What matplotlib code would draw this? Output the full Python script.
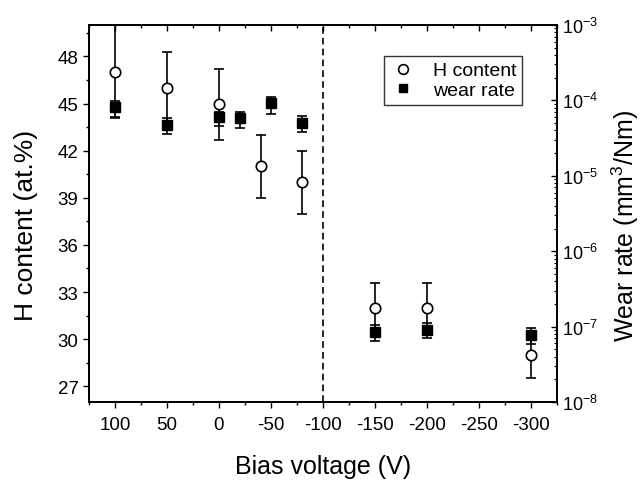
import matplotlib.pyplot as plt
from matplotlib.ticker import MultipleLocator, LogLocator, NullFormatter
from matplotlib.lines import Line2D

plt.rcParams['font.family'] = ['Liberation Sans', 'DejaVu Sans']
plt.rcParams['mathtext.fontset'] = 'custom'
plt.rcParams['mathtext.rm'] = 'Liberation Sans'
plt.rcParams['mathtext.it'] = 'Liberation Sans:italic'
plt.rcParams['axes.unicode_minus'] = False

# H content (left axis)
h_bias = [100, 50, 0, -40, -80, -150, -200, -300]
h_content = [47, 46, 45, 41, 40, 32, 32, 29]
h_err_lo = [2.9, 2.6, 2.3, 2.0, 2.0, 1.6, 1.6, 1.5]
h_err_hi = [3.5, 2.3, 2.2, 2.0, 2.0, 1.6, 1.6, 1.5]

# wear rate (right axis, log)
w_bias = [100, 50, 0, -20, -50, -80, -150, -200, -300]
wear = [8.2e-5, 4.7e-5, 6.1e-5, 5.8e-5, 9.2e-5, 5.0e-5, 8.5e-8, 9.1e-8, 7.7e-8]
wear_hi = [9.8e-5, 5.9e-5, 7.1e-5, 7.1e-5, 1.1e-4, 6.2e-5, 1.05e-7, 1.13e-7, 9.6e-8]
wear_lo = [6.0e-5, 3.6e-5, 4.6e-5, 4.3e-5, 6.6e-5, 3.8e-5, 6.4e-8, 7.1e-8, 5.9e-8]

x_ticks = [100, 50, 0, -50, -100, -150, -200, -250, -300]
h_ticks = [27, 30, 33, 36, 39, 42, 45, 48]

fig = plt.figure(figsize=(6.4, 4.81), dpi=100)
ax = fig.add_axes([89 / 640, 1 - 403 / 481, 468 / 640, 377 / 481])

ax.errorbar(h_bias, h_content, yerr=[h_err_lo, h_err_hi], fmt='none',
            ecolor='black', elinewidth=1.2, capsize=3.5, capthick=1.2, zorder=2)
ax.plot(h_bias, h_content, 'o', mfc='white', mec='black', mew=1.2, ms=7.5, zorder=3)
ax.axvline(-100, color='black', lw=1.2, ls=(0, (4, 2.5)))

ax.set_xlim(125, -325)
ax.set_ylim(26, 50)
ax.set_xticks(x_ticks)
ax.xaxis.set_minor_locator(MultipleLocator(25))
ax.set_yticks(h_ticks)
ax.yaxis.set_minor_locator(MultipleLocator(1.5))
ax.tick_params(which='major', direction='out', length=4, width=1, labelsize=13.5)
ax.tick_params(axis='x', which='major', pad=6)
ax.tick_params(which='minor', direction='out', length=2, width=1)
ax.set_xlabel('Bias voltage (V)', fontsize=18, labelpad=15)
ax.set_ylabel('H content (at.%)', fontsize=19)
ax.yaxis.set_label_coords(-0.108, 0.47)

top = ax.secondary_xaxis('top')
top.set_xticks(x_ticks)
top.xaxis.set_minor_locator(MultipleLocator(25))
top.tick_params(which='major', direction='in', length=4, width=1, labeltop=False)
top.tick_params(which='minor', direction='in', length=2, width=1)

ax2 = ax.twinx()
w_lo = [w - lo for w, lo in zip(wear, wear_lo)]
w_hi = [hi - w for w, hi in zip(wear, wear_hi)]
ax2.errorbar(w_bias, wear, yerr=[w_lo, w_hi], fmt='none', ecolor='black',
             elinewidth=1.2, capsize=3.5, capthick=1.2, zorder=2)
ax2.plot(w_bias, wear, 's', color='black', ms=6.5, zorder=3)
ax2.set_yscale('log')
ax2.set_ylim(1e-8, 1e-3)
ax2.yaxis.set_major_locator(LogLocator(base=10, numticks=10))
ax2.yaxis.set_minor_locator(LogLocator(base=10, subs=range(2, 10), numticks=10))
ax2.yaxis.set_minor_formatter(NullFormatter())
ax2.tick_params(which='major', direction='in', length=4, width=1, labelsize=13)
ax2.tick_params(which='minor', direction='in', length=2, width=0.8)
ax2.set_ylabel('Wear rate (mm$^3$/Nm)', fontsize=18)
ax2.yaxis.set_label_coords(1.112, 0.47)

for a in (ax, ax2):
    for s in a.spines.values():
        s.set_linewidth(1.3)
top.spines['top'].set_linewidth(1.3)

handles = [Line2D([], [], ls='none', marker='o', mfc='white', mec='black', mew=1.2, ms=7),
           Line2D([], [], ls='none', marker='s', color='black', ms=6)]
leg = ax2.legend(handles, ['H content', 'wear rate'], loc='upper right',
                 bbox_to_anchor=(0.925, 0.918), borderaxespad=0, fontsize=14,
                 frameon=True, fancybox=False, edgecolor='black', handlelength=1.4,
                 handletextpad=0.8, labelspacing=0.12, borderpad=0.3)
leg.get_frame().set_linewidth(1.0)

fig.savefig('out.png', dpi=100)
